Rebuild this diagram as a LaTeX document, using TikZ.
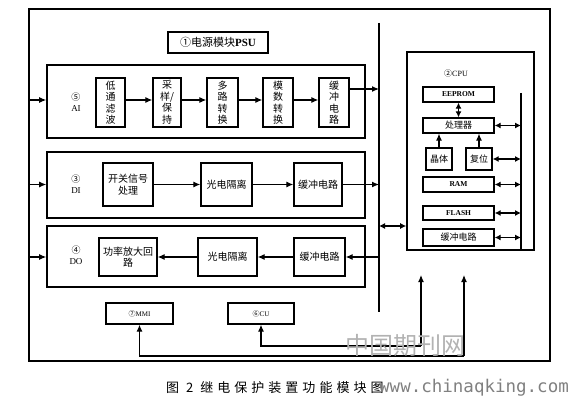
\documentclass[tikz,border=0pt]{standalone}
\usepackage{fontspec}
\setmainfont{Liberation Serif}
\newfontfamily\cjk{Noto Sans CJK SC}
\newfontfamily\capfont[LetterSpace=31]{Noto Sans CJK SC}
\newfontfamily\wmono{DejaVu Sans Mono}
\usetikzlibrary{arrows.meta}
\tikzset{
  blk/.style={draw, line width=1.4pt, inner sep=0pt, align=center, font=\cjk\fontsize{10}{11.5}\selectfont},
  grp/.style={draw, line width=1.6pt, inner sep=0pt},
  cbox/.style={draw, line width=1.3pt, inner sep=0pt, align=center, font=\cjk\fontsize{9}{10}\selectfont},
  lbox/.style={draw, line width=1.3pt, inner sep=0pt, align=center, font=\fontsize{7.5}{8}\selectfont},
  glabel/.style={align=center, inner sep=0pt, font=\fontsize{9}{11.5}\selectfont},
  arr/.style={line width=1.1pt, -{Latex[length=7pt,width=6pt]}},
  darr/.style={line width=1.1pt, {Latex[length=6pt,width=6pt]}-{Latex[length=6pt,width=6pt]}},
  bus/.style={line width=1.1pt},
}
\begin{document}
\begin{tikzpicture}[x=1pt,y=-1pt]
\useasboundingbox (0,0) rectangle (571,404);
% outer frame
\node[draw, line width=2pt, minimum width=521pt, minimum height=352pt, inner sep=0pt] (frame) at (289.5,185) {};
% PSU
\node[draw, line width=1.4pt, minimum width=100pt, minimum height=21pt, inner sep=0pt, font=\fontsize{11}{12}\selectfont] (psu) at (218,42.5) {{\cjk ①电源模块}\textbf{PSU}};
% bus
\coordinate (bustop) at (379,23);
\coordinate (busbot) at (379,312);
\draw[bus] (bustop) -- (busbot);
% AI group
\node[grp, minimum width=318pt, minimum height=73pt] (ai) at (206,101.5) {};
\node[glabel] (ailab) at (76,102) {{\cjk ⑤}\\AI};
\node[blk, minimum width=29pt, minimum height=49pt] (a1) at (110.5,102.5) {低\\通\\滤\\波};
\node[blk, minimum width=28pt, minimum height=49pt] (a2) at (167,102.5) {采\\样/\\保\\持};
\node[blk, minimum width=31pt, minimum height=49pt] (a3) at (222.5,102.5) {多\\路\\转\\换};
\node[blk, minimum width=30pt, minimum height=49pt] (a4) at (278,102.5) {模\\数\\转\\换};
\node[blk, minimum width=30pt, minimum height=49pt] (a5) at (334,102.5) {缓\\冲\\电\\路};
\coordinate (aiy) at (0,100);
\draw[arr] (frame.west |- aiy) -- (ai.west |- aiy);
\draw[arr] (a1.east |- aiy) -- (a2.west |- aiy);
\draw[arr] (a2.east |- aiy) -- (a3.west |- aiy);
\draw[arr] (a3.east |- aiy) -- (a4.west |- aiy);
\draw[arr] (a4.east |- aiy) -- (a5.west |- aiy);
\coordinate (aiout) at (379,89);
\draw[arr] (a5.east |- aiout) -- (aiout);
% DI group
\node[grp, minimum width=318pt, minimum height=66pt] (di) at (206,185) {};
\node[glabel] (dilab) at (76,184) {{\cjk ③}\\DI};
\node[blk, minimum width=50pt, minimum height=43pt] (d1) at (128,184.5) {开关信号\\处理};
\node[blk, minimum width=51pt, minimum height=43pt] (d2) at (226.5,184.5) {光电隔离};
\node[blk, minimum width=48pt, minimum height=43pt] (d3) at (318,184.5) {缓冲电路};
\draw[arr] (frame.west |- d1.west) -- (di.west |- d1.west);
\draw[arr] (d1.east) -- (d2.west);
\draw[arr] (d2.east) -- (d3.west);
\draw[arr] (d3.east) -- (d3.east -| bustop);
% DO group
\node[grp, minimum width=318pt, minimum height=61pt] (do) at (206,256.5) {};
\node[glabel] (dolab) at (76,255) {{\cjk ④}\\DO};
\node[blk, minimum width=58pt, minimum height=38pt] (o1) at (128,257) {功率放大回\\路};
\node[blk, minimum width=59pt, minimum height=38pt] (o2) at (227.5,257) {光电隔离};
\node[blk, minimum width=51pt, minimum height=38pt] (o3) at (319.5,257) {缓冲电路};
\draw[arr] (frame.west |- o1.west) -- (do.west |- o1.west);
\draw[arr] (o3.east -| bustop) -- (o3.east);
\draw[arr] (o3.west) -- (o2.east);
\draw[arr] (o2.west) -- (o1.east);
% CPU
\node[grp, minimum width=127pt, minimum height=198pt] (cpu) at (470.5,151) {};
\node[inner sep=0pt, font=\fontsize{8}{9}\selectfont] (cpulab) at (456,73) {{\cjk ②}CPU};
\node[lbox, minimum width=71pt, minimum height=15pt] (eep) at (458.5,94.5) {\textbf{EEPROM}};
\node[cbox, minimum width=71pt, minimum height=15pt] (proc) at (458.5,125.5) {处理器};
\node[cbox, minimum width=26pt, minimum height=22pt] (xt) at (439,159) {晶体};
\node[cbox, minimum width=26pt, minimum height=22pt] (rst) at (479,159) {复位};
\node[lbox, minimum width=71pt, minimum height=15pt] (ram) at (458.5,184.5) {\textbf{RAM}};
\node[lbox, minimum width=71pt, minimum height=14pt] (flash) at (458.5,213) {\textbf{FLASH}};
\node[cbox, minimum width=71pt, minimum height=17pt] (cbuf) at (458.5,237.5) {缓冲电路};
\coordinate (cbt) at (521,93);
\coordinate (cbb) at (521,250);
\draw[bus] (cbt) -- (cbb);
\draw[darr] (eep.south) -- (proc.north);
\draw[arr] (xt.north) -- (xt.north |- proc.south);
\draw[arr] (rst.north) -- (rst.north |- proc.south);
\draw[darr] (proc.east) -- (proc.east -| cbt);
\draw[darr] (rst.east) -- (rst.east -| cbt);
\draw[darr] (ram.east) -- (ram.east -| cbt);
\draw[darr] (flash.east) -- (flash.east -| cbt);
\draw[darr] (cbuf.east) -- (cbuf.east -| cbt);
\coordinate (cpulink) at (379,226);
\draw[darr] (cpulink) -- (cpulink -| cpu.west);
% MMI / CU
\node[draw, line width=1.4pt, minimum width=67pt, minimum height=21pt, inner sep=0pt, font=\fontsize{7}{8}\selectfont] (mmi) at (139.5,313.5) {{\cjk ⑦}MMI};
\node[draw, line width=1.4pt, minimum width=66pt, minimum height=21pt, inner sep=0pt, font=\fontsize{7}{8}\selectfont] (cu) at (261,313.5) {{\cjk ⑥}CU};
\coordinate (u1) at (421,346);
\coordinate (t1) at (421,275);
\coordinate (u2) at (464,356);
\coordinate (t2) at (464,275);
\draw[arr] (u1) -- (t1);
\draw[arr] (u1) -| (cu.south);
\draw[arr] (u2) -- (t2);
\draw[arr] (u2) -| (mmi.south);
% watermark
\node[inner sep=0pt, text=black!30, font=\cjk\fontsize{24}{24}\selectfont] (wm) at (405,345) {中国期刊网};
% caption
\node[inner sep=0pt, anchor=west, font=\capfont\fontsize{13}{14}\selectfont] (cap) at (166,388) {图 2 继电保护装置功能模块图};
\node[inner sep=0pt, anchor=west, text=black!50, font=\wmono\fontsize{17.5}{18}\selectfont] (url) at (379,388) {www.chinaqking.com};
\end{tikzpicture}
\end{document}
